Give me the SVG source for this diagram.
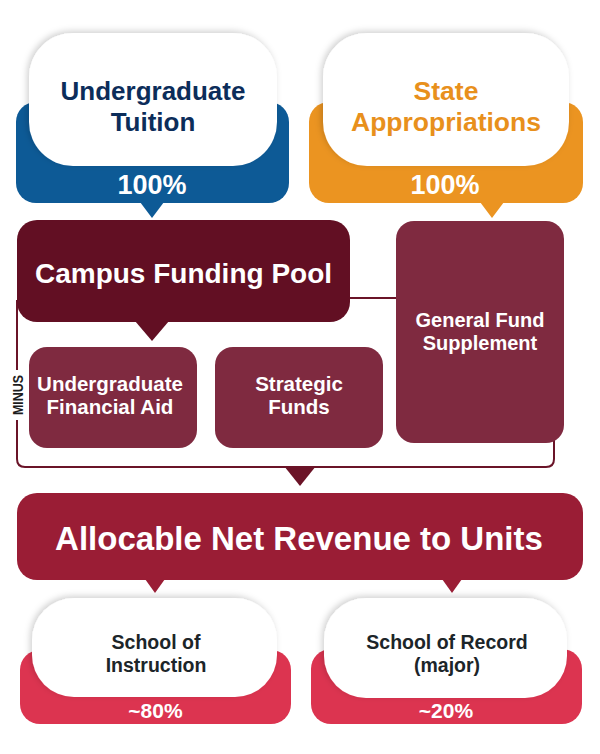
<svg xmlns="http://www.w3.org/2000/svg" width="600" height="754" viewBox="0 0 600 754">
<defs>
<filter id="sh" x="-10%" y="-15%" width="120%" height="130%">
<feDropShadow dx="-2" dy="-2" stdDeviation="3" flood-color="#000" flood-opacity="0.18"/>
</filter>
<style>
text{font-family:"Liberation Sans",Arial,sans-serif;font-weight:bold;text-anchor:middle}
.w{fill:#ffffff}
.navy{fill:#0c2d5a}
.org{fill:#e8901c}
.dk{fill:#1c2529}
.box{fill:#7f2a40}
.ln{fill:none;stroke:#6a1428;stroke-width:2}
</style>
</defs>
<rect width="600" height="754" fill="#ffffff"/>

<g id="undergraduate-tuition">
<rect x="16" y="102" width="273" height="101" rx="20" fill="#0d5a96"/>
<polygon points="140,202 164,202 152,218" fill="#0d5a96"/>
<rect x="29" y="33" width="248" height="133" rx="44" fill="#ffffff" filter="url(#sh)"/>
<text x="153" y="100" font-size="26" class="navy">Undergraduate</text>
<text x="153" y="131" font-size="26" class="navy">Tuition</text>
<text x="152" y="194" font-size="27" class="w">100%</text>
</g>

<g id="state-appropriations">
<rect x="309" y="102" width="274" height="101" rx="20" fill="#eb9421"/>
<polygon points="480,202 504,202 492,218" fill="#eb9421"/>
<rect x="323" y="33" width="246" height="133" rx="44" fill="#ffffff" filter="url(#sh)"/>
<text x="446" y="100" font-size="26.5" class="org">State</text>
<text x="446" y="131" font-size="26.5" class="org">Appropriations</text>
<text x="445" y="194" font-size="27" class="w">100%</text>
</g>

<g id="connectors">
<path class="ln" d="M350,298 H396"/>
<path class="ln" d="M17,300 V370"/>
<path class="ln" d="M17,420 V459 Q17,467 25,467 H546 Q554,467 554,459 V440"/>
<polygon points="284,466 316,466 300,486" fill="#6b1327"/>
<text transform="translate(23,395) rotate(-90)" font-size="14" textLength="40" lengthAdjust="spacingAndGlyphs" fill="#1c1c1c">MINUS</text>
</g>

<g id="campus-funding-pool">
<rect x="17" y="220" width="333" height="102" rx="20" fill="#620f23"/>
<polygon points="135,321 169,321 152,341" fill="#620f23"/>
<text x="183.5" y="283" font-size="28" class="w">Campus Funding Pool</text>
</g>

<g id="undergraduate-financial-aid">
<rect x="29" y="347" width="168" height="101" rx="18" class="box"/>
<text x="110" y="391" font-size="20.5" class="w">Undergraduate</text>
<text x="110" y="414" font-size="20.5" class="w">Financial Aid</text>
</g>

<g id="strategic-funds">
<rect x="215" y="347" width="168" height="101" rx="18" class="box"/>
<text x="299" y="391" font-size="20.5" class="w">Strategic</text>
<text x="299" y="414" font-size="20.5" class="w">Funds</text>
</g>

<g id="general-fund-supplement">
<rect x="396" y="221" width="168" height="222" rx="18" class="box"/>
<text x="480" y="327" font-size="20" class="w">General Fund</text>
<text x="480" y="350" font-size="20" class="w">Supplement</text>
</g>

<g id="allocable-net-revenue">
<rect x="17" y="493" width="566" height="87" rx="20" fill="#9a1d35"/>
<polygon points="145,579 165,579 155,593" fill="#9a1d35"/>
<polygon points="442,579 462,579 452,593" fill="#9a1d35"/>
<text x="299" y="550" font-size="33" class="w">Allocable Net Revenue to Units</text>
</g>

<g id="school-of-instruction">
<rect x="20" y="650" width="271" height="74" rx="20" fill="#dc3450"/>
<rect x="32" y="598" width="245" height="99" rx="42" fill="#ffffff" filter="url(#sh)"/>
<text x="156" y="649" font-size="19.5" class="dk">School of</text>
<text x="156" y="672" font-size="19.5" class="dk">Instruction</text>
<text x="155.5" y="718" font-size="21" class="w">~80%</text>
</g>

<g id="school-of-record">
<rect x="311" y="649" width="271" height="75" rx="20" fill="#dc3450"/>
<rect x="324" y="598" width="243" height="100" rx="42" fill="#ffffff" filter="url(#sh)"/>
<text x="447" y="649" font-size="19.5" class="dk">School of Record</text>
<text x="447" y="672" font-size="19.5" class="dk">(major)</text>
<text x="446" y="718" font-size="21" class="w">~20%</text>
</g>
</svg>
